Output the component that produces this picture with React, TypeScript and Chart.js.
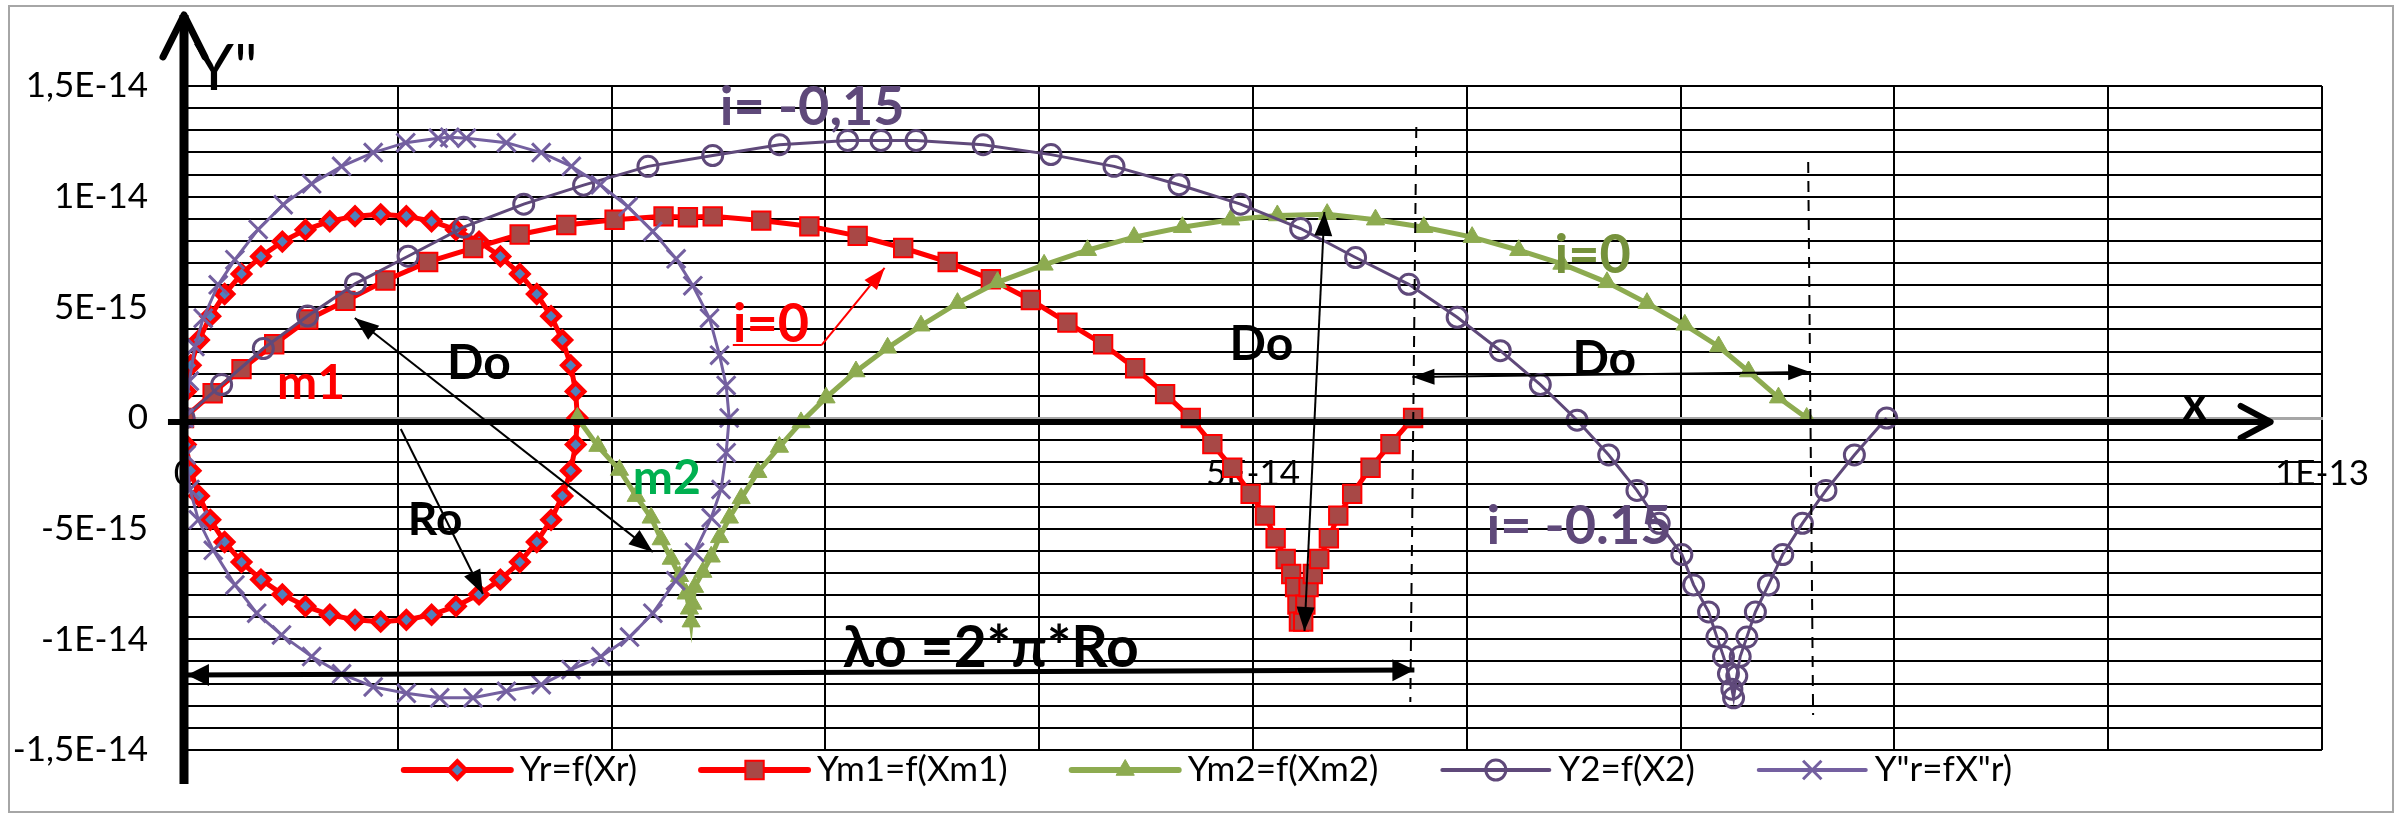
import React, { useEffect, useRef } from "react";
import { Chart, registerables } from "chart.js";
import { drawPoint } from "chart.js/helpers";

Chart.register(...registerables);

// All series values below are expressed in units of 1E-15
const UNIT = 1e-15;

const seriesNames = ["Yr=f(Xr)", "Ym1=f(Xm1)", "Ym2=f(Xm2)", "Y2=f(X2)", 'Y"r=fX"r)'];

// Yr = f(Xr)
const yrX = [0, 0.08, 0.31, 0.7, 1.23, 1.9, 2.69, 3.6, 4.6, 5.68, 6.82, 8.0, 9.2, 10.4, 11.58, 12.72, 13.8, 14.8, 15.71, 16.5, 17.17, 17.7, 18.09, 18.32, 18.4,
  18.32, 18.09, 17.7, 17.17, 16.5, 15.71, 14.8, 13.8, 12.72, 11.58, 10.4, 9.2, 8.0, 6.82, 5.68, 4.6, 3.6, 2.69, 1.9, 1.23, 0.7, 0.31, 0.08, 0];
const yrY = [0, 1.2, 2.38, 3.52, 4.6, 5.6, 6.51, 7.3, 7.97, 8.5, 8.89, 9.12, 9.2, 9.12, 8.89, 8.5, 7.97, 7.3, 6.51, 5.6, 4.6, 3.52, 2.38, 1.2, 0,
  -1.2, -2.38, -3.52, -4.6, -5.6, -6.51, -7.3, -7.97, -8.5, -8.89, -9.12, -9.2, -9.12, -8.89, -8.5, -7.97, -7.3, -6.51, -5.6, -4.6, -3.52, -2.38, -1.2, 0];

// Ym1 = f(Xm1)
const ym1X = [0, 1.34, 2.69, 4.22, 5.81, 7.55, 9.42, 11.42, 13.52, 15.7, 17.88, 20.14, 22.43, 23.57, 24.73, 27.0, 29.25, 31.51, 33.64, 35.72,
  37.74, 39.61, 41.32, 42.99, 44.49, 45.89, 47.09, 48.1, 49.03, 49.89, 50.56, 51.06, 51.53, 51.79, 51.97, 52.08, 52.15, 52.35, 52.45, 52.6,
  52.8, 53.1, 53.55, 53.99, 54.64, 55.5, 56.43, 57.49];
const ym1Y = [0, 1.12, 2.21, 3.33, 4.45, 5.29, 6.21, 7.05, 7.68, 8.29, 8.72, 8.96, 9.11, 9.07, 9.11, 8.92, 8.66, 8.23, 7.68, 7.05,
  6.27, 5.33, 4.31, 3.33, 2.25, 1.08, 0, -1.18, -2.25, -3.43, -4.41, -5.43, -6.37, -7.05, -7.64, -8.43, -9.2, -9.2, -8.43, -7.64,
  -7.05, -6.37, -5.43, -4.41, -3.43, -2.25, -1.18, 0];

// Ym2 = f(Xm2)
const ym2X = [18.4, 19.36, 20.37, 21.15, 21.85, 22.32, 22.79, 23.18, 23.49, 23.64, 23.72, 23.8, 23.88, 24.27, 24.66, 25.05, 25.51, 26.06, 26.84, 27.85,
  28.86, 30.03, 31.43, 32.91, 34.47, 36.18, 38.05, 40.23, 42.26, 44.44, 46.7, 48.96, 51.14, 53.47, 55.73, 57.99, 60.25, 62.43, 64.45, 66.56,
  68.43, 70.2, 71.78, 73.18, 74.58, 75.9];
const ym2Y = [0, -1.27, -2.35, -3.53, -4.51, -5.49, -6.37, -7.15, -7.94, -8.62, -9.2, -8.4, -7.64, -6.96, -6.27, -5.39, -4.51, -3.63, -2.45, -1.31,
  -0.2, 0.92, 2.1, 3.17, 4.17, 5.19, 6.13, 6.92, 7.58, 8.17, 8.62, 8.96, 9.15, 9.21, 8.96, 8.62, 8.17, 7.58, 6.96, 6.13,
  5.19, 4.21, 3.23, 2.1, 0.92, 0];

// Y2 = f(X2)
const y2X = [0, 1.76, 3.71, 5.78, 8.02, 10.48, 13.08, 15.89, 18.69, 21.7, 24.73, 27.85, 31.04, 32.6, 34.24, 37.38, 40.55, 43.5, 46.54, 49.42,
  52.23, 54.8, 57.29, 59.55, 61.57, 63.44, 65.16, 66.64, 67.96, 69.0, 70.06, 70.61, 71.31, 71.7, 72.01, 72.24, 72.4, 72.48, 72.63, 72.79,
  73.1, 73.5, 74.11, 74.78, 75.7, 76.8, 78.13, 79.64];
const y2Y = [0, 1.51, 3.14, 4.61, 6.07, 7.31, 8.62, 9.66, 10.52, 11.37, 11.86, 12.35, 12.54, 12.54, 12.54, 12.35, 11.9, 11.37, 10.54, 9.66,
  8.56, 7.25, 6.04, 4.55, 3.04, 1.51, -0.1, -1.67, -3.27, -4.76, -6.17, -7.54, -8.76, -9.9, -10.78, -11.56, -12.25, -12.64, -11.66, -10.78,
  -9.9, -8.76, -7.54, -6.17, -4.76, -3.27, -1.67, 0];

// Y"r = f(X"r)
const yrrX = [0, 0.25, 0.51, 0.9, 1.6, 2.38, 3.47, 4.64, 5.97, 7.37, 8.85, 10.37, 11.89, 12.43, 13.21, 15.08, 16.71, 18.12, 19.47, 20.77,
  21.93, 23.02, 23.8, 24.58, 25.05, 25.36, 25.5, 25.36, 25.12, 24.66, 23.88, 23.0, 21.93, 20.84, 19.5, 18.1, 16.71, 15.08, 13.52, 11.96,
  10.4, 8.85, 7.37, 5.97, 4.56, 3.4, 2.38, 1.37, 0.67, 0.28, 0.1, 0];
const yrrY = [0, 1.67, 3.23, 4.51, 6.02, 7.15, 8.52, 9.64, 10.58, 11.37, 11.99, 12.44, 12.64, 12.68, 12.64, 12.44, 11.99, 11.37, 10.54, 9.54,
  8.43, 7.19, 5.98, 4.51, 2.84, 1.47, 0, -1.57, -3.23, -4.51, -6.07, -7.35, -8.82, -9.9, -10.78, -11.37, -12.05, -12.35, -12.64, -12.64,
  -12.44, -12.15, -11.56, -10.78, -9.8, -8.82, -7.54, -5.98, -4.6, -3.23, -1.67, 0];

// Axis grid values (units of 1E-15) and their labels
const xGrid = [0, 10, 20, 30, 40, 50, 60, 70, 80, 90, 100];
const xTickLabels = ["0", "", "", "", "", "5E-14", "", "", "", "", "1E-13"];
const yGrid = [-15, -14, -13, -12, -11, -10, -9, -8, -7, -6, -5, -4, -3, -2, -1, 0, 1, 2, 3, 4, 5, 6, 7, 8, 9, 10, 11, 12, 13, 14, 15];
const yTickLabels = ["-1,5E-14", "", "", "", "", "-1E-14", "", "", "", "", "-5E-15", "", "", "", "", "0",
  "", "", "", "", "5E-15", "", "", "", "", "1E-14", "", "", "", "", "1,5E-14"];

// Annotations drawn on the chart (data coordinates, units of 1E-15)
const noteTexts = [
  { text: 'Y"', x: 0.47, y: 14.82, font: "64px Lato", color: "#000000" },
  { text: "x", x: 93.45, y: -0.09, font: "bold 48px Lato", color: "#000000" },
  { text: "i= -0,15", x: 25.06, y: 13.24, font: "bold 54px Lato", color: "#5F497A" },
  { text: "i=0", x: 25.67, y: 3.43, font: "bold 54px Lato", color: "#FF0000" },
  { text: "i=0", x: 64.1, y: 6.55, font: "bold 54px Lato", color: "#76923C" },
  { text: "m1", x: 4.35, y: 0.86, font: "bold 48px Lato", color: "#FF0000" },
  { text: "m2", x: 20.99, y: -3.43, font: "bold 48px Lato", color: "#00B050" },
  { text: "Do", x: 12.3, y: 1.76, font: "bold 48px Lato", color: "#000000" },
  { text: "Ro", x: 10.47, y: -5.29, font: "bold 46px Lato", color: "#000000" },
  { text: "Do", x: 48.9, y: 2.62, font: "bold 48px Lato", color: "#000000" },
  { text: "Do", x: 64.94, y: 1.94, font: "bold 48px Lato", color: "#000000" },
  { text: "i= -0.15", x: 60.92, y: -5.69, font: "bold 54px Lato", color: "#5F497A" },
  { text: "λo =2*π*Ro", x: 30.81, y: -11.25, font: "bold 57px Lato", color: "#000000" },
];

const noteLines = [
  { from: [7.99, 4.52], to: [21.93, -6.05], width: 2, color: "#000000", heads: "both", len: 24, hw: 9, dash: [] },
  { from: [10.14, -0.5], to: [13.98, -7.95], width: 2, color: "#000000", heads: "end", len: 24, hw: 9, dash: [] },
  { from: [0.14, -11.61], to: [57.55, -11.39], width: 5, color: "#000000", heads: "both", len: 22, hw: 11, dash: [] },
  { from: [57.46, 1.85], to: [76.06, 2.08], width: 2, color: "#000000", heads: "both", len: 22, hw: 8, dash: [] },
  { from: [53.34, 9.31], to: [52.41, -9.62], width: 2, color: "#000000", heads: "both", len: 24, hw: 9, dash: [] },
  { from: [25.67, 3.3], to: [29.83, 3.3], width: 2, color: "#FF0000", heads: "none", len: 0, hw: 0, dash: [] },
  { from: [29.83, 3.3], to: [32.77, 6.78], width: 2, color: "#FF0000", heads: "end", len: 22, hw: 8, dash: [] },
  { from: [57.64, 13.15], to: [57.36, -12.83], width: 2, color: "#000000", heads: "none", len: 0, hw: 0, dash: [11, 8] },
  { from: [75.97, 11.57], to: [76.2, -13.42], width: 2, color: "#000000", heads: "none", len: 0, hw: 0, dash: [11, 8] },
];

const axisArrows = [
  { from: [0, -16.54], to: [0, 18.21], width: 9, len: 42, hw: 21, headWidth: 7 },
  { from: [-0.75, -0.18], to: [97.6, -0.18], width: 6, len: 30, hw: 16, headWidth: 6 },
];

const pts = (xs: number[], ys: number[]) => xs.map((x, i) => ({ x: x * UNIT, y: ys[i] * UNIT }));

function filledHead(ctx: CanvasRenderingContext2D, x1: number, y1: number, x2: number, y2: number, len: number, hw: number, color: string) {
  const a = Math.atan2(y2 - y1, x2 - x1);
  const bx = x2 - len * Math.cos(a);
  const by = y2 - len * Math.sin(a);
  ctx.beginPath();
  ctx.moveTo(x2, y2);
  ctx.lineTo(bx + hw * Math.sin(a), by - hw * Math.cos(a));
  ctx.lineTo(bx - hw * Math.sin(a), by + hw * Math.cos(a));
  ctx.closePath();
  ctx.fillStyle = color;
  ctx.fill();
}

const notesPlugin = {
  id: "notes",
  beforeDraw(chart: any) {
    const ctx = chart.ctx as CanvasRenderingContext2D;
    ctx.save();
    ctx.fillStyle = "#ffffff";
    ctx.fillRect(0, 0, chart.width, chart.height);
    ctx.strokeStyle = "#A6A6A6";
    ctx.lineWidth = 2;
    ctx.strokeRect(9, 6, chart.width - 20, chart.height - 16);
    ctx.restore();
  },
  afterDatasetsDraw(chart: any) {
    const ctx = chart.ctx as CanvasRenderingContext2D;
    const sx = (v: number) => chart.scales.x.getPixelForValue(v * UNIT);
    const sy = (v: number) => chart.scales.y.getPixelForValue(v * UNIT);
    ctx.save();
    noteLines.forEach((l) => {
      const x1 = sx(l.from[0]), y1 = sy(l.from[1]), x2 = sx(l.to[0]), y2 = sy(l.to[1]);
      ctx.beginPath();
      ctx.setLineDash(l.dash);
      ctx.strokeStyle = l.color;
      ctx.lineWidth = l.width;
      ctx.moveTo(x1, y1);
      ctx.lineTo(x2, y2);
      ctx.stroke();
      ctx.setLineDash([]);
      if (l.heads === "end" || l.heads === "both") filledHead(ctx, x1, y1, x2, y2, l.len, l.hw, l.color);
      if (l.heads === "both") filledHead(ctx, x2, y2, x1, y1, l.len, l.hw, l.color);
    });
    axisArrows.forEach((a) => {
      const x1 = sx(a.from[0]), y1 = sy(a.from[1]), x2 = sx(a.to[0]), y2 = sy(a.to[1]);
      ctx.strokeStyle = "#000000";
      ctx.lineCap = "butt";
      ctx.lineWidth = a.width;
      ctx.beginPath();
      ctx.moveTo(x1, y1);
      ctx.lineTo(x2, y2);
      ctx.stroke();
      const ang = Math.atan2(y2 - y1, x2 - x1);
      const bx = x2 - a.len * Math.cos(ang);
      const by = y2 - a.len * Math.sin(ang);
      ctx.lineWidth = a.headWidth;
      ctx.lineCap = "round";
      ctx.lineJoin = "round";
      ctx.beginPath();
      ctx.moveTo(bx + a.hw * Math.sin(ang), by - a.hw * Math.cos(ang));
      ctx.lineTo(x2, y2);
      ctx.lineTo(bx - a.hw * Math.sin(ang), by + a.hw * Math.cos(ang));
      ctx.stroke();
    });
    ctx.textAlign = "left";
    ctx.textBaseline = "alphabetic";
    noteTexts.forEach((t) => {
      ctx.font = t.font;
      ctx.fillStyle = t.color;
      ctx.fillText(t.text, sx(t.x), sy(t.y));
    });
    ctx.restore();
  },
  afterDraw(chart: any) {
    const ctx = chart.ctx as CanvasRenderingContext2D;
    ctx.save();
    ctx.font = "35px Lato";
    const lineLen = 107;
    const gapText = 9;
    const gapItem = 64;
    const ds = chart.data.datasets;
    const widths = ds.map((d: any) => lineLen + gapText + ctx.measureText(d.label).width);
    const total = widths.reduce((a: number, b: number) => a + b, 0) + gapItem * (ds.length - 1);
    let x = 1208 - total / 2;
    const y = 770;
    ds.forEach((d: any, i: number) => {
      ctx.strokeStyle = d.borderColor;
      ctx.lineWidth = d.borderWidth + 1;
      ctx.lineCap = "round";
      ctx.beginPath();
      ctx.moveTo(x, y);
      ctx.lineTo(x + lineLen, y);
      ctx.stroke();
      ctx.lineCap = "butt";
      ctx.fillStyle = d.pointBackgroundColor;
      ctx.strokeStyle = d.pointBorderColor;
      ctx.lineWidth = d.pointBorderWidth;
      drawPoint(ctx, { pointStyle: d.pointStyle, radius: d.pointRadius, rotation: 0, borderWidth: d.pointBorderWidth } as any, x + lineLen / 2, y);
      ctx.fillStyle = "#000000";
      ctx.textAlign = "left";
      ctx.textBaseline = "middle";
      ctx.fillText(d.label, x + lineLen + gapText, y);
      x += widths[i] + gapItem;
    });
    ctx.restore();
  },
};

export default function App() {
  const ref = useRef<HTMLCanvasElement | null>(null);
  useEffect(() => {
    if (!ref.current) return;
    const chart = new Chart(ref.current, {
      type: "scatter",
      data: {
        datasets: [
          {
            label: seriesNames[0], data: pts(yrX, yrY), showLine: true, borderColor: "#FF0000", borderWidth: 5,
            pointStyle: "rectRot", pointRadius: 8.5, pointBackgroundColor: "#4F81BD", pointBorderColor: "#FF0000", pointBorderWidth: 4.5, order: 5,
          },
          {
            label: seriesNames[1], data: pts(ym1X, ym1Y), showLine: true, borderColor: "#FF0000", borderWidth: 5,
            pointStyle: "rect", pointRadius: 13, pointBackgroundColor: "#A84846", pointBorderColor: "#FF0000", pointBorderWidth: 2, order: 4,
          },
          {
            label: seriesNames[2], data: pts(ym2X, ym2Y), showLine: true, borderColor: "#8DAB50", borderWidth: 5,
            pointStyle: "triangle", pointRadius: 10.5, pointBackgroundColor: "#8DAB50", pointBorderColor: "#8DAB50", pointBorderWidth: 1, order: 3,
          },
          {
            label: seriesNames[3], data: pts(y2X, y2Y), showLine: true, borderColor: "#5F497A", borderWidth: 3,
            pointStyle: "circle", pointRadius: 10, pointBackgroundColor: "rgba(0,0,0,0)", pointBorderColor: "#5F497A", pointBorderWidth: 3, order: 2,
          },
          {
            label: seriesNames[4], data: pts(yrrX, yrrY), showLine: true, borderColor: "#7460A0", borderWidth: 3,
            pointStyle: "crossRot", pointRadius: 13, pointBackgroundColor: "#7460A0", pointBorderColor: "#7460A0", pointBorderWidth: 3, order: 1,
          },
        ],
      },
      options: {
        responsive: false,
        animation: false,
        events: [],
        layout: { padding: { left: 0, top: 86, right: 81, bottom: 72 } },
        plugins: { legend: { display: false }, tooltip: { enabled: false } },
        scales: {
          x: {
            type: "linear",
            position: { y: 0 } as any,
            min: xGrid[0] * UNIT,
            max: xGrid[xGrid.length - 1] * UNIT,
            afterBuildTicks: (s: any) => { s.ticks = xGrid.map((v) => ({ value: v * UNIT })); },
            ticks: {
              autoSkip: false, maxRotation: 0, minRotation: 0, padding: 35, color: "#000000",
              font: { family: "Lato", size: 35 },
              callback: (_v: any, i: number) => xTickLabels[i],
            },
            grid: { color: "#000000", lineWidth: 2, drawTicks: false },
            border: { display: true, color: "#A6A6A6", width: 3 },
          },
          y: {
            type: "linear",
            position: "left",
            min: yGrid[0] * UNIT,
            max: yGrid[yGrid.length - 1] * UNIT,
            afterBuildTicks: (s: any) => { s.ticks = yGrid.map((v) => ({ value: v * UNIT })); },
            afterFit: (s: any) => { s.width = 184; },
            ticks: {
              autoSkip: false, padding: 36, color: "#000000",
              font: { family: "Lato", size: 35 },
              callback: (_v: any, i: number) => yTickLabels[i],
            },
            grid: { color: "#000000", lineWidth: 2, drawTicks: false },
            border: { display: true, color: "#A6A6A6", width: 3 },
          },
        },
      },
      plugins: [notesPlugin],
    } as any);
    return () => chart.destroy();
  }, []);
  return (
    <div style={{ position: "fixed", left: 0, top: 0, width: 2404, height: 822, background: "#ffffff" }}>
      <canvas ref={ref} width={2404} height={822} style={{ width: 2404, height: 822, display: "block" }} />
    </div>
  );
}
